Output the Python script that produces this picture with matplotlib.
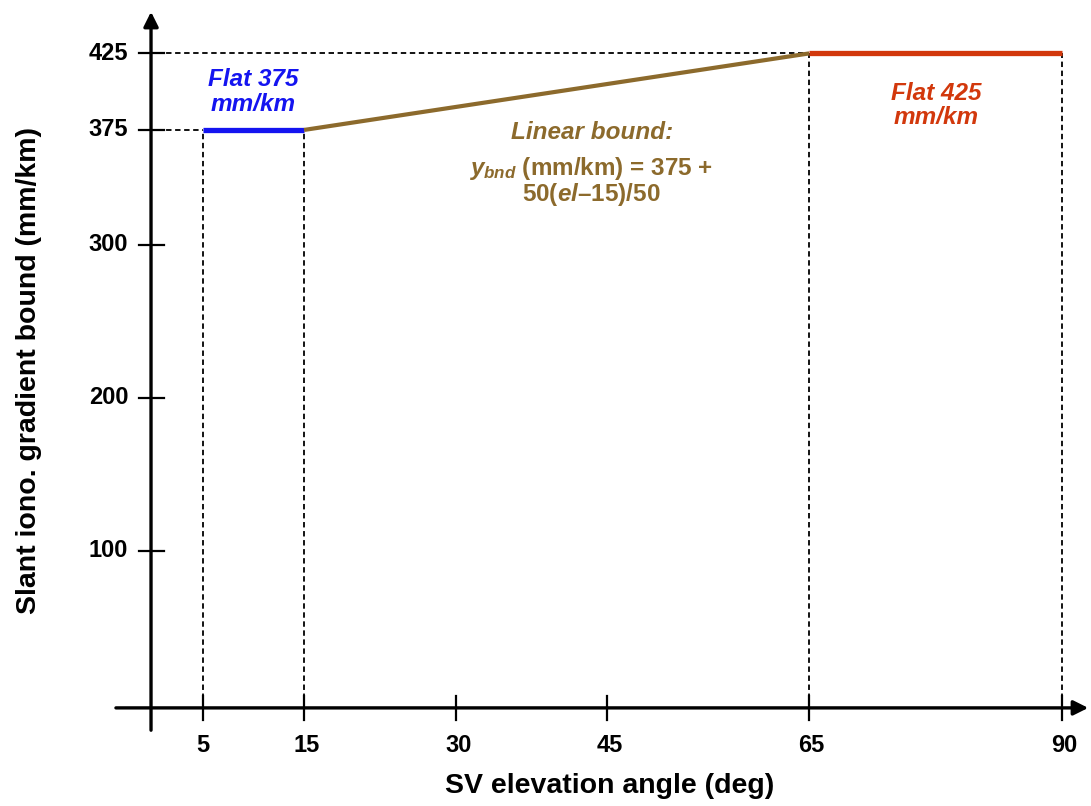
import matplotlib.pyplot as plt

plt.rcParams['font.family'] = ['Liberation Sans', 'DejaVu Sans']
plt.rcParams['mathtext.fontset'] = 'custom'
plt.rcParams['mathtext.it'] = 'Liberation Sans:bold:italic'
plt.rcParams['mathtext.rm'] = 'Liberation Sans:bold'

# bound segments (elevation deg, bound mm/km)
elev_low = [5, 15]
bound_low = [375, 375]
elev_lin = [15, 65]
bound_lin = [375, 425]
elev_high = [65, 90]
bound_high = [425, 425]

x_ticks = [5, 15, 30, 45, 65, 90]
y_ticks = [100, 200, 300, 375, 425]

blue = '#1414f0'
brown = '#8c6a2c'
red = '#d2380c'

fig = plt.figure(figsize=(10.91, 8.06), dpi=100)
ax = fig.add_axes([0, 0, 1, 1])
ax.set_xlim(-15.1, 92.9)
ax.set_ylim(-66.7, 459.9)
ax.axis('off')

x0 = -2.6  # height of the horizontal axis line

# guide lines
dash = dict(color='black', lw=1.3, ls=(0, (3, 2)))
ax.plot([-1.3, 65], [425, 425], **dash)
ax.plot([-1.3, 5], [375, 375], **dash)
for xv, yv in [(5, 375), (15, 375), (65, 425), (90, 425)]:
    ax.plot([xv, xv], [x0, yv], **dash)

# axes with arrows
ax.annotate('', xy=(92.9, x0), xytext=(-3.9, x0),
            arrowprops=dict(arrowstyle='-|>', lw=2.4, color='black', mutation_scale=22))
ax.annotate('', xy=(-0.15, 454), xytext=(-0.15, -19),
            arrowprops=dict(arrowstyle='-|>', lw=2.4, color='black', mutation_scale=22))

# ticks
for t in y_ticks:
    ax.plot([-1.3, 1.1], [t, t], color='black', lw=1.6)
    ax.text(-2.4, t, str(t), ha='right', va='center', fontsize=17, fontweight='bold')
for t in x_ticks:
    ax.plot([t, t], [x0 + 8, x0 - 8], color='black', lw=1.6)
    ax.text(t + 0.25 * (t > 5), -27, str(t), ha='center', va='center',
            fontsize=17, fontweight='bold')

# bound curve
ax.plot(elev_low, bound_low, color=blue, lw=3.8, solid_capstyle='butt')
ax.plot(elev_lin, bound_lin, color=brown, lw=3.0, solid_capstyle='butt')
ax.plot(elev_high, bound_high, color=red, lw=3.8, solid_capstyle='butt')

# annotations
note = dict(ha='center', va='center', fontsize=17.5, fontweight='bold')
ax.text(9.95, 400, 'Flat 375\nmm/km', color=blue, fontstyle='italic', linespacing=1.1, **note)
ax.text(77.6, 391, 'Flat 425\nmm/km', color=red, fontstyle='italic', linespacing=1.1, **note)
ax.text(43.5, 373.6, 'Linear bound:', color=brown, fontstyle='italic', **note)
ax.text(43.4, 349.5, r'$y_{bnd}$ (mm/km) = 375 +', color=brown, **note)
ax.text(43.4, 332.5, r'50($el$–15)/50', color=brown, **note)

# axis titles
ax.text(45.2, -53.5, 'SV elevation angle (deg)', ha='center', va='center',
        fontsize=20.5, fontweight='bold')
ax.text(-12.2, 218, 'Slant iono. gradient bound (mm/km)', ha='center', va='center',
        rotation=90, fontsize=20.5, fontweight='bold')

fig.savefig('out.png', dpi=100)
